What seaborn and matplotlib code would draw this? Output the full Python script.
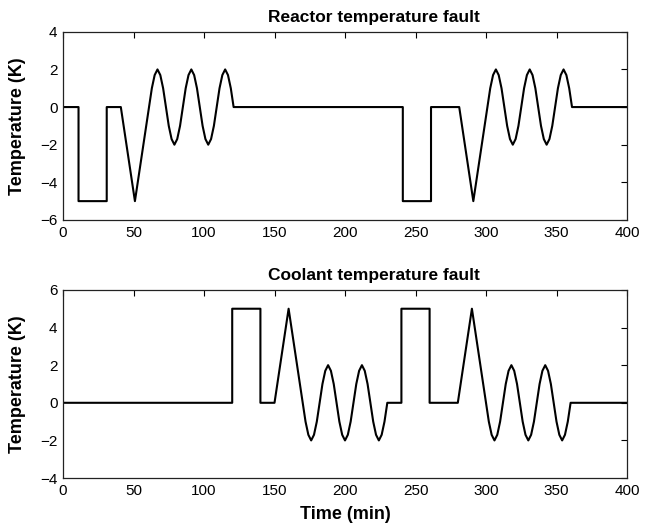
import seaborn as sns
import matplotlib.pyplot as plt

# values: time (min) and temperature deviation (K)
reactor_time = [0, 11, 11, 31, 31, 41, 51,
                61, 63, 65, 67, 69, 71, 73, 75, 77, 79, 81, 83, 85, 87, 89, 91,
                93, 95, 97, 99, 101, 103, 105, 107, 109, 111, 113, 115, 117, 119, 121,
                241, 241, 261, 261, 281, 291,
                301, 303, 305, 307, 309, 311, 313, 315, 317, 319, 321, 323, 325, 327,
                329, 331, 333, 335, 337, 339, 341, 343, 345, 347, 349, 351, 353, 355,
                357, 359, 361,
                400]
reactor_temp = [0, 0, -5, -5, 0, 0, -5,
                0, 1.0, 1.7, 2.0, 1.7, 1.0, 0, -1.0, -1.7, -2.0, -1.7, -1.0,
                0, 1.0, 1.7, 2.0, 1.7, 1.0, 0, -1.0, -1.7, -2.0, -1.7, -1.0,
                0, 1.0, 1.7, 2.0, 1.7, 1.0, 0,
                0, -5, -5, 0, 0, -5,
                0, 1.0, 1.7, 2.0, 1.7, 1.0, 0, -1.0, -1.7, -2.0, -1.7, -1.0,
                0, 1.0, 1.7, 2.0, 1.7, 1.0, 0, -1.0, -1.7, -2.0, -1.7, -1.0,
                0, 1.0, 1.7, 2.0, 1.7, 1.0, 0,
                0]

coolant_time = [0, 120, 120, 140, 140, 150, 160,
                170, 172, 174, 176, 178, 180, 182, 184, 186, 188, 190, 192, 194,
                196, 198, 200, 202, 204, 206, 208, 210, 212, 214, 216, 218, 220,
                222, 224, 226, 228, 230,
                240, 240, 260, 260, 280, 290,
                300, 302, 304, 306, 308, 310, 312, 314, 316, 318, 320, 322, 324,
                326, 328, 330, 332, 334, 336, 338, 340, 342, 344, 346, 348, 350,
                352, 354, 356, 358, 360,
                400]
coolant_temp = [0, 0, 5, 5, 0, 0, 5,
                0, -1.0, -1.7, -2.0, -1.7, -1.0, 0, 1.0, 1.7, 2.0, 1.7, 1.0,
                0, -1.0, -1.7, -2.0, -1.7, -1.0, 0, 1.0, 1.7, 2.0, 1.7, 1.0,
                0, -1.0, -1.7, -2.0, -1.7, -1.0, 0,
                0, 5, 5, 0, 0, 5,
                0, -1.0, -1.7, -2.0, -1.7, -1.0, 0, 1.0, 1.7, 2.0, 1.7, 1.0,
                0, -1.0, -1.7, -2.0, -1.7, -1.0, 0, 1.0, 1.7, 2.0, 1.7, 1.0,
                0, -1.0, -1.7, -2.0, -1.7, -1.0, 0,
                0]

titles = ["Reactor temperature fault", "Coolant temperature fault"]
x_ticks = [0, 50, 100, 150, 200, 250, 300, 350, 400]
y_ticks = [[-6, -4, -2, 0, 2, 4], [-4, -2, 0, 2, 4, 6]]

sns.set_style("white")
plt.rcParams["font.family"] = ["Liberation Sans", "DejaVu Sans"]

fig = plt.figure(figsize=(6.45, 5.30), dpi=100)
ax1 = fig.add_axes([0.0977, 0.585, 0.8744, 0.355])
ax2 = fig.add_axes([0.0977, 0.098, 0.8744, 0.355])

series = [(reactor_time, reactor_temp), (coolant_time, coolant_temp)]
for ax, (t, v), title, yt in zip([ax1, ax2], series, titles, y_ticks):
    sns.lineplot(x=t, y=v, sort=False, estimator=None, color="black",
                 linewidth=1.5, ax=ax)
    ax.set_xlim(0, 400)
    ax.set_ylim(yt[0], yt[-1])
    ax.set_xticks(x_ticks)
    ax.set_yticks(yt)
    ax.tick_params(direction="in", top=True, right=True, length=4,
                   labelsize=11, colors="black", pad=4)
    for s in ax.spines.values():
        s.set_color("#222222")
        s.set_linewidth(0.9)
    ax.set_title(title, fontsize=12.5, fontweight="bold", pad=7, x=0.551,
                 color="black")
    ax.set_ylabel("Temperature (K)", fontsize=13, fontweight="bold",
                  color="black")
    ax.yaxis.set_label_coords(-0.066, 0.5)

ax2.set_xlabel("Time (min)", fontsize=13, fontweight="bold", labelpad=6,
               color="black")

fig.savefig("out.png", dpi=100)
